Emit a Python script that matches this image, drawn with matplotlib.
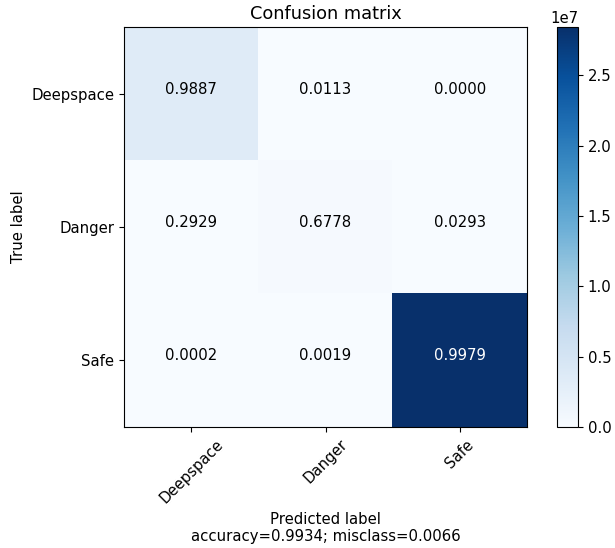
import numpy as np
import matplotlib
matplotlib.use('Agg')
import matplotlib.pyplot as plt

# raw counts (rows = true label, cols = predicted label)
target_names = ['Deepspace', 'Danger', 'Safe']
row_deepspace = [3401100, 38850, 50]
row_danger = [104020, 240710, 10405]
row_safe = [5700, 54150, 28440150]

cm = np.array([row_deepspace, row_danger, row_safe])

accuracy = np.trace(cm) / float(np.sum(cm))
misclass = 1 - accuracy

plt.rcParams['font.size'] = 10.7

fig = plt.figure(figsize=(6.15, 5.48), dpi=100)
ax = fig.add_axes([124/615, 1 - 427/548, 403/615, 400/548])
cax = fig.add_axes([557/615, 1 - 427/548, 21/615, 400/548])

im = ax.imshow(cm, interpolation='nearest', cmap=plt.get_cmap('Blues'),
               aspect='auto', vmin=0)
ax.set_title('Confusion matrix', fontsize=12.8)
fig.colorbar(im, cax=cax)

tick_marks = np.arange(len(target_names))
ax.set_xticks(tick_marks)
ax.set_xticklabels(target_names, rotation=45)
ax.set_yticks(tick_marks)
ax.set_yticklabels(target_names)

cmn = cm.astype('float') / cm.sum(axis=1)[:, np.newaxis]
thresh = cm.max() / 1.5
for i in range(cm.shape[0]):
    for j in range(cm.shape[1]):
        ax.text(j, i, "{:0.4f}".format(cmn[i, j]),
                horizontalalignment="center",
                color="white" if cm[i, j] > thresh else "black")

ax.set_ylabel('True label')
ax.set_xlabel('Predicted label\naccuracy={:0.4f}; misclass={:0.4f}'.format(accuracy, misclass))

fig.savefig('out.png', dpi=100)
